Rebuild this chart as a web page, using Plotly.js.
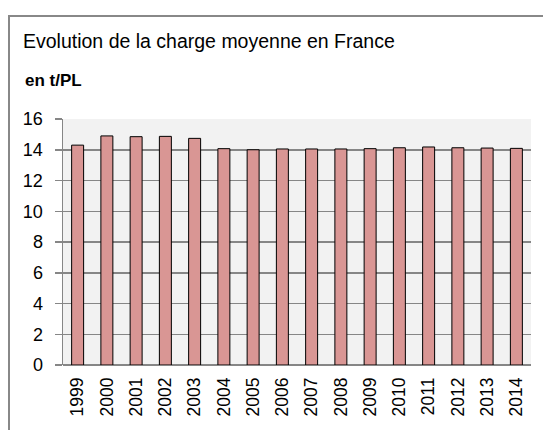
<!DOCTYPE html>
<html><head><meta charset="utf-8">
<script src="https://cdn.plot.ly/plotly-3.0.1.min.js"></script>
<style>body{margin:0;padding:0;overflow:hidden;background:#fff}#frame{position:absolute;left:8px;top:15px;width:600px;height:500px;border-left:2px solid #888;border-top:2px solid #888;pointer-events:none;z-index:5}</style>
</head><body>
<div id="frame"></div>
<div id="chart" style="width:543px;height:430px;"></div>
<script>
const years = ['1999','2000','2001','2002','2003','2004','2005','2006','2007','2008','2009','2010','2011','2012','2013','2014'];
const charge = [14.3,14.9,14.85,14.87,14.74,14.07,14.0,14.05,14.05,14.05,14.07,14.13,14.18,14.13,14.11,14.09];
const yTicks = [0,2,4,6,8,10,12,14,16];
const titleText = 'Evolution de la charge moyenne en France';
const unitText = 'en t/PL';

Plotly.newPlot('chart', [{
  type:'bar', x: years, y: charge,
  marker:{color:'#d99694', line:{color:'#000', width:1}},
  hoverinfo:'none'
}], {
  width:543, height:430,
  margin:{l:63, r:12, t:119, b:65},
  paper_bgcolor:'#fff', plot_bgcolor:'#f2f2f2',
  bargap:0.59,
  font:{family:'Liberation Sans, Arial, sans-serif', color:'#000'},
  title:{text:titleText, x:23/543, xanchor:'left', xref:'container', y:1-41/430, yanchor:'middle', yref:'container', font:{size:19.5, color:'#000'}},
  annotations:[{text:'<b>'+unitText+'</b>', xref:'paper', yref:'paper', x:(23-63)/468, xanchor:'left', y:1+(119-81)/246, yanchor:'middle', showarrow:false, font:{size:17}}],
  xaxis:{type:'category', tickangle:-90, tickfont:{size:17.5}, showgrid:false, showline:false, ticks:'', ticklabelstandoff:8, fixedrange:true},
  yaxis:{range:[0,16], tickvals:yTicks, tickfont:{size:18}, showgrid:true, gridcolor:'#868686', gridwidth:1.5, zeroline:true, zerolinecolor:'#868686', zerolinewidth:1.5, showline:true, linecolor:'#868686', linewidth:1.5, ticks:'outside', ticklen:7, tickcolor:'#868686', tickwidth:1.5, ticklabelstandoff:8, fixedrange:true},
  showlegend:false
}, {displayModeBar:false, staticPlot:true});
</script>
</body></html>
